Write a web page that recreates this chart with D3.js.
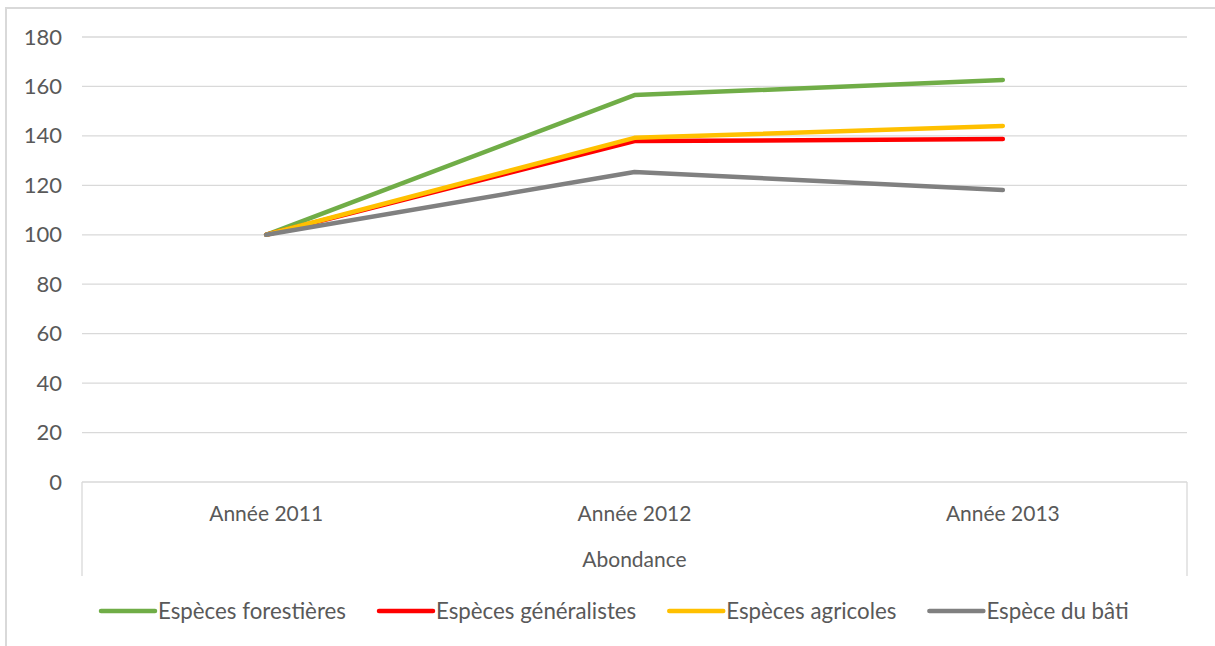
<!DOCTYPE html>
<html><head><meta charset="utf-8">
<script src="https://cdn.jsdelivr.net/npm/d3@7"></script>
<style>
body{margin:0;background:#fff}
svg{display:block}
text{font-family:Lato,"Open Sans","Noto Sans",sans-serif;fill:#595959}
</style></head>
<body><svg id="c" width="1215" height="646"></svg>
<script>
const categories = ["Année 2011", "Année 2012", "Année 2013"];
const seriesNames = ["Espèces forestières", "Espèces généralistes", "Espèces agricoles", "Espèce du bâti"];
const forestieres = [100, 156.5, 162.6];
const generalistes = [100, 137.9, 138.7];
const agricoles = [100, 139.2, 144.0];
const bati = [100, 125.4, 118.1];
const yTicks = [0, 20, 40, 60, 80, 100, 120, 140, 160, 180];
const axisTitle = "Abondance";
const colors = ["#70AD47", "#FF0000", "#FFC000", "#808080"];

const series = [forestieres, generalistes, agricoles, bati];
const svg = d3.select("#c");
const W = 1215, H = 646;
const pLeft = 82, pRight = 1187, pTop = 37, pBottom = 482;

// outer border
svg.append("path").attr("d", `M6,${H} V8 H${W}`).attr("fill", "none").attr("stroke", "#D9D9D9").attr("stroke-width", 2);

const x = d3.scaleBand().domain(categories).range([pLeft, pRight]).padding(0);
const y = d3.scaleLinear().domain([0, 180]).range([pBottom, pTop]);

// gridlines
svg.append("g").selectAll("line").data(yTicks).join("line")
  .attr("x1", pLeft).attr("x2", pRight)
  .attr("y1", d => y(d)).attr("y2", d => y(d))
  .attr("stroke", "#D9D9D9").attr("stroke-width", 1.3);

// y axis labels
const yAxis = d3.axisLeft(y).tickValues(yTicks).tickSize(0).tickPadding(20);
const gy = svg.append("g").attr("transform", `translate(${pLeft},0)`).call(yAxis);
gy.select(".domain").remove();
gy.attr("font-family", null).attr("font-size", null);
gy.selectAll("text").style("font-size", "22px").attr("fill", "#595959");

// category axis box verticals
svg.append("g").selectAll("line").data([pLeft, pRight]).join("line")
  .attr("x1", d => d).attr("x2", d => d).attr("y1", pBottom).attr("y2", 576)
  .attr("stroke", "#D9D9D9").attr("stroke-width", 1.3);

// x axis labels
const xAxis = d3.axisBottom(x).tickSize(0).tickPadding(24);
const gx = svg.append("g").attr("transform", `translate(0,${pBottom})`).call(xAxis);
gx.select(".domain").remove();
gx.attr("font-family", null).attr("font-size", null);
gx.selectAll("text").style("font-size", "21px").attr("fill", "#595959");

svg.append("text").attr("x", (pLeft + pRight) / 2).attr("y", 567).attr("text-anchor", "middle")
  .style("font-size", "21px").text(axisTitle);

// lines
const line = d3.line().x((d, i) => x(categories[i]) + x.bandwidth() / 2).y(d => y(d));
svg.append("g").selectAll("path").data(series).join("path")
  .attr("d", d => line(d)).attr("fill", "none")
  .attr("stroke", (d, i) => colors[i]).attr("stroke-width", 4.5)
  .attr("stroke-linecap", "round").attr("stroke-linejoin", "round");

// legend
const lg = svg.append("g");
let lx = 101;
const ly = 611;
seriesNames.forEach((name, i) => {
  lg.append("line").attr("x1", lx).attr("x2", lx + 54).attr("y1", ly).attr("y2", ly)
    .attr("stroke", colors[i]).attr("stroke-width", 4.5).attr("stroke-linecap", "round");
  const t = lg.append("text").attr("x", lx + 57).attr("y", ly).attr("dy", "0.35em")
    .style("font-size", "22.3px").text(name);
  lx += 57 + t.node().getComputedTextLength() + 33;
});
</script></body></html>
